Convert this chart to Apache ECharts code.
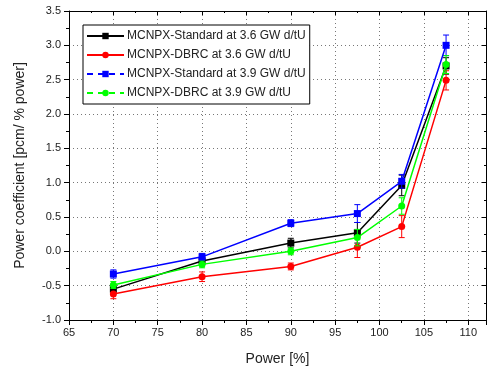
<!DOCTYPE html>
<html>
<head>
<meta charset="utf-8">
<script src="https://cdn.jsdelivr.net/npm/echarts@6/dist/echarts.min.js"></script>
<style>
html,body{margin:0;padding:0;background:#fff;}
#c{width:487px;height:371px;}
</style>
</head>
<body>
<div id="c"></div>
<script>
const power = [70, 80, 90, 97.5, 102.5, 107.5];
const seriesNames = [
  'MCNPX-Standard at 3.6 GW d/tU',
  'MCNPX-DBRC at 3.6 GW d/tU',
  'MCNPX-Standard at 3.9 GW d/tU',
  'MCNPX-DBRC at 3.9 GW d/tU'
];
const std36 = [-0.55, -0.14, 0.12, 0.27, 0.96, 2.70];
const dbrc36 = [-0.62, -0.37, -0.22, 0.06, 0.36, 2.49];
const std39 = [-0.33, -0.08, 0.41, 0.55, 1.02, 3.00];
const dbrc39 = [-0.49, -0.19, 0.00, 0.20, 0.66, 2.72];
const errStd36 = [0.05, 0.05, 0.07, 0.15, 0.15, 0.12];
const errDbrc36 = [0.07, 0.07, 0.05, 0.15, 0.16, 0.14];
const errStd39 = [0.06, 0.05, 0.05, 0.13, 0.10, 0.15];
const errDbrc39 = [0.05, 0.05, 0.05, 0.12, 0.12, 0.13];

const colors = ['#000000', '#ff0000', '#0000ff', '#00ff00'];
const symbols = ['rect', 'circle', 'rect', 'circle'];
const vals = [std36, dbrc36, std39, dbrc39];
const errs = [errStd36, errDbrc36, errStd39, errDbrc39];

const chart = echarts.init(document.getElementById('c'));
const font = 'Arial, "Liberation Sans", sans-serif';

const series = [];
vals.forEach((v, i) => {
  series.push({
    name: seriesNames[i],
    type: 'line',
    data: power.map((p, j) => [p, v[j]]),
    symbol: symbols[i],
    symbolSize: 7,
    lineStyle: {color: colors[i], width: 1.5},
    itemStyle: {color: colors[i]},
    z: 3 + i
  });
  series.push({
    name: seriesNames[i],
    type: 'custom',
    data: power.map((p, j) => [p, v[j] - errs[i][j], v[j] + errs[i][j]]),
    z: 2 + i,
    renderItem: function (params, api) {
      const x = api.value(0);
      const lo = api.coord([x, api.value(1)]);
      const hi = api.coord([x, api.value(2)]);
      const hw = 3;
      const st = {stroke: colors[i], lineWidth: 1};
      return {
        type: 'group',
        children: [
          {type: 'line', shape: {x1: lo[0], y1: lo[1], x2: hi[0], y2: hi[1]}, style: st},
          {type: 'line', shape: {x1: lo[0] - hw, y1: lo[1], x2: lo[0] + hw, y2: lo[1]}, style: st},
          {type: 'line', shape: {x1: hi[0] - hw, y1: hi[1], x2: hi[0] + hw, y2: hi[1]}, style: st}
        ]
      };
    }
  });
});

const gridLine = {show: true, lineStyle: {color: '#777', type: [1, 3], width: 1}};
const axisLine = {show: true, onZero: false, lineStyle: {color: '#000', width: 1}};
const labelStyle = {color: '#222', fontSize: 11, fontFamily: font};

chart.setOption({
  animation: false,
  backgroundColor: '#fff',
  grid: {left: 69, right: 1, top: 11, bottom: 50},
  legend: {
    orient: 'vertical',
    left: 83,
    top: 25,
    padding: [5, 4, 5, 3],
    itemGap: 7,
    itemWidth: 37,
    itemHeight: 8,
    borderColor: '#000',
    borderWidth: 1,
    borderRadius: 0,
    backgroundColor: '#fff',
    textStyle: {fontSize: 12, fontFamily: font, color: '#222', padding: [0, 0, 0, -2]},
    data: [
      {name: seriesNames[0]},
      {name: seriesNames[1]},
      {name: seriesNames[2], lineStyle: {type: [6, 5]}},
      {name: seriesNames[3], lineStyle: {type: [6, 5]}}
    ]
  },
  xAxis: [{
    type: 'value', min: 65, max: 112, interval: 5,
    name: 'Power [%]', nameLocation: 'middle', nameGap: 32,
    nameTextStyle: {fontSize: 14, fontFamily: font, color: '#222'},
    axisLine: axisLine,
    axisTick: {show: true, inside: false, length: 5, lineStyle: {color: '#000'}},
    minorTick: {show: true, splitNumber: 2, length: 3, lineStyle: {color: '#000'}},
    axisLabel: Object.assign({showMaxLabel: false, margin: 7}, labelStyle),
    splitLine: gridLine
  }, {
    type: 'value', min: 65, max: 112, interval: 5, position: 'top',
    axisLine: axisLine,
    axisTick: {show: true, inside: true, length: 4, lineStyle: {color: '#000'}},
    minorTick: {show: true, splitNumber: 2, length: 2, lineStyle: {color: '#000'}},
    axisLabel: {show: false},
    splitLine: {show: false}
  }],
  yAxis: [{
    type: 'value', min: -1, max: 3.5, interval: 0.5,
    name: 'Power coefficient [pcm/ % power]', nameLocation: 'middle', nameGap: 42,
    nameTextStyle: {fontSize: 14, fontFamily: font, color: '#222'},
    axisLine: axisLine,
    axisTick: {show: true, inside: false, length: 5, lineStyle: {color: '#000'}},
    minorTick: {show: true, splitNumber: 2, length: 3, lineStyle: {color: '#000'}},
    axisLabel: Object.assign({formatter: v => v.toFixed(1), margin: 8}, labelStyle),
    splitLine: gridLine
  }, {
    type: 'value', min: -1, max: 3.5, interval: 0.5, position: 'right',
    axisLine: axisLine,
    axisTick: {show: true, inside: true, length: 4, lineStyle: {color: '#000'}},
    minorTick: {show: true, splitNumber: 2, length: 2, lineStyle: {color: '#000'}},
    axisLabel: {show: false},
    splitLine: {show: false}
  }],
  series: series
});
</script>
</body>
</html>
